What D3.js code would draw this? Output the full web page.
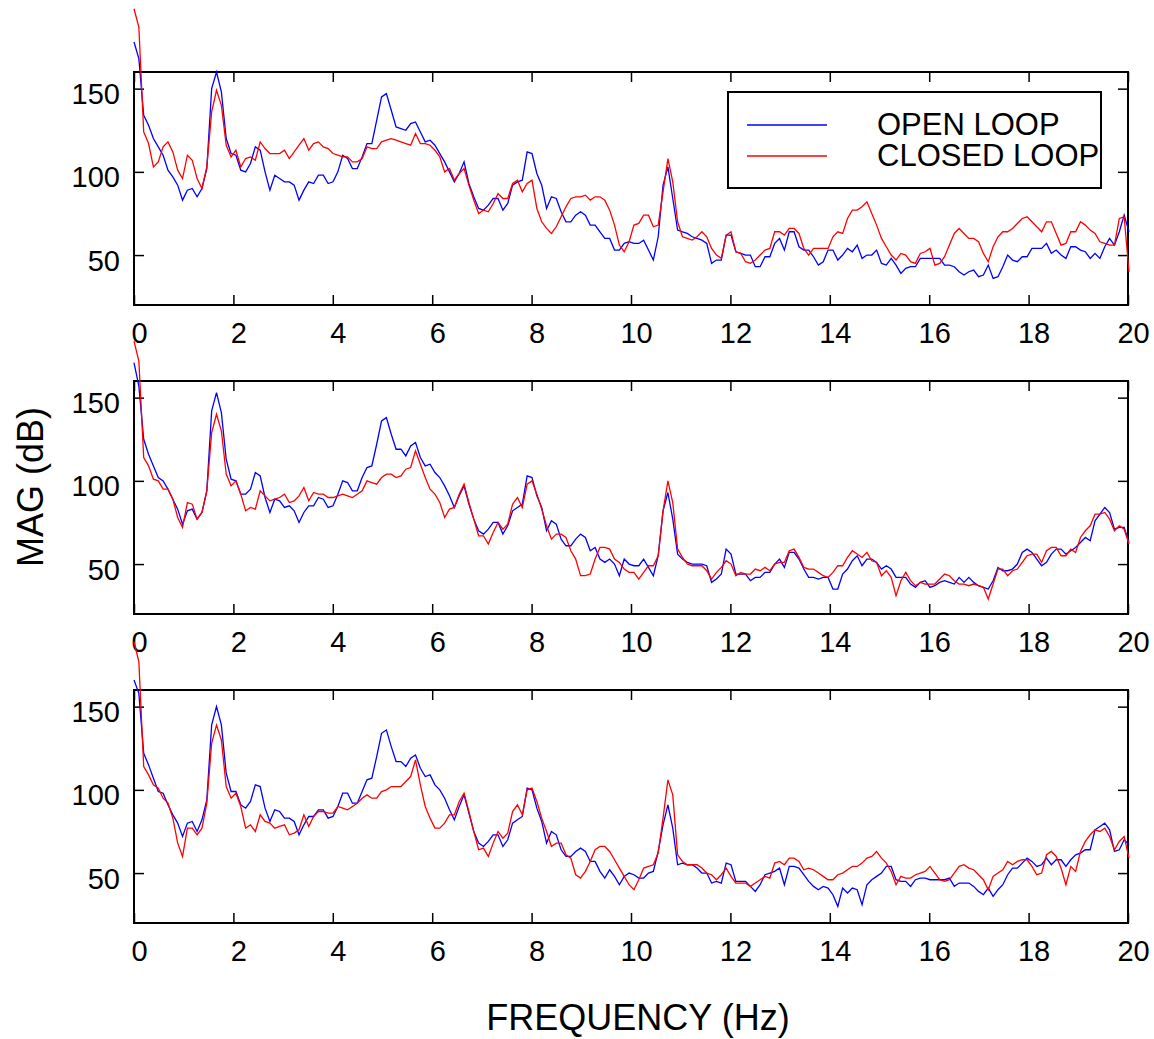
<!DOCTYPE html>
<html>
<head>
<meta charset="utf-8">
<script src="https://cdn.jsdelivr.net/npm/d3@7"></script>
<style>
  body { margin: 0; background: #fff; }
  text { font-family: "Liberation Sans", Arial, sans-serif; fill: #000; }
</style>
</head>
<body>
<svg width="1154" height="1039"></svg>
<script>
// frequency bin width of the spectra (Hz)
const binHz = 0.09766;

const xTicks = [0, 2, 4, 6, 8, 10, 12, 14, 16, 18, 20];
const yTicks = [50, 100, 150];
const seriesNames = ["OPEN LOOP", "CLOSED LOOP"];

// panel 1
const open1 = [
  178,168,134,128,120,115,110,101,97,92,
  83,89,90,85,90,102,150,160,148,120,
  111,110,101,100,105,115,113,100,89,98,
  96,94,94,92,83,89,94,93,98,98,
  93,94,100,110,108,102,102,109,117,117,
  131,145,147,137,127,126,125,129,130,124,
  118,119,116,111,106,100,94,99,106,93,
  85,78,77,80,84,84,77,81,92,94,
  95,112,111,99,92,78,85,84,76,70,
  70,74,76,74,68,68,64,60,60,53,
  53,57,58,57,57,59,53,47,61,92,
  103,84,65,64,63,61,60,59,57,45,
  47,47,62,62,52,51,50,50,43,43,
  49,49,57,60,53,64,64,55,53,53,
  49,44,46,53,53,47,50,54,52,56,
  48,50,50,53,45,44,48,44,39,42,
  43,43,48,48,48,48,48,44,44,43,
  40,38,40,41,37,38,44,36,37,43,
  50,47,46,49,49,54,54,54,57,51,
  53,50,48,55,55,53,52,48,51,48,
  55,60,56,64,74,64
];
const closed1 = [
  198,187,124,117,103,106,115,118,112,101,
  96,110,107,96,90,103,136,149,140,116,
  109,113,103,108,109,107,118,114,111,111,
  111,113,108,112,116,120,113,117,118,115,
  114,111,110,109,109,106,106,108,115,114,
  114,118,119,120,119,118,117,116,123,117,
  117,116,113,109,100,102,95,99,102,92,
  83,75,77,76,81,87,84,84,93,95,
  88,93,95,78,70,66,63,67,73,79,
  84,85,85,86,83,85,85,83,77,68,
  56,52,58,68,69,74,74,67,68,88,
  108,94,70,61,60,59,61,64,61,54,
  50,48,62,64,52,51,46,45,47,50,
  53,54,64,64,62,66,66,63,54,50,
  54,54,54,54,61,64,63,72,77,77,
  79,82,75,68,60,55,50,47,51,50,
  46,45,51,52,54,44,45,49,56,63,
  66,63,60,60,58,51,46,55,61,64,
  64,66,69,72,73,70,67,64,70,70,
  63,56,57,64,64,70,68,65,63,58,
  57,56,56,72,73,40
];

// panel 2
const open2 = [
  171,157,125,116,109,102,100,95,89,83,
  74,82,83,77,81,94,142,153,141,113,
  101,100,92,92,95,105,103,90,81,89,
  88,84,85,82,75,81,85,85,90,89,
  84,85,92,100,99,94,94,102,108,109,
  122,136,138,128,119,119,115,121,123,114,
  109,110,105,102,97,91,84,91,97,86,
  77,70,68,71,75,75,68,73,82,84,
  86,103,102,91,84,70,76,74,65,61,
  61,65,68,66,58,60,53,51,53,50,
  43,53,50,49,49,53,48,43,55,82,
  93,77,56,53,51,50,50,50,49,39,
  41,44,59,56,44,44,44,40,42,42,
  45,45,50,53,48,57,57,53,47,42,
  42,41,42,42,35,35,44,47,52,55,
  49,53,53,51,47,49,47,42,42,42,
  38,36,39,40,36,37,39,40,39,38,
  42,39,42,39,37,36,35,40,48,46,
  46,47,50,57,59,57,53,49,51,56,
  59,59,56,58,60,63,66,64,76,80,
  84,81,71,72,72,63
];
const closed2 = [
  184,172,114,109,101,100,95,95,89,78,
  72,87,86,77,81,94,129,140,130,104,
  97,100,92,82,84,83,94,91,88,89,
  90,92,87,88,91,96,88,93,92,92,
  90,90,91,92,91,90,92,94,100,99,
  98,102,104,104,102,103,107,108,118,110,
  102,95,92,87,78,83,84,92,98,87,
  77,67,67,62,69,75,71,74,86,90,
  84,98,100,92,83,73,65,68,68,66,
  58,53,43,43,44,53,60,60,59,53,
  51,47,45,45,41,45,49,49,55,82,
  100,87,59,54,50,49,49,49,46,41,
  45,48,52,50,43,45,44,44,47,46,
  48,46,50,51,51,58,59,54,48,47,
  47,45,43,42,45,49,49,54,58,56,
  54,57,52,51,43,46,42,31,40,45,
  40,37,39,38,38,38,41,44,43,40,
  38,38,37,38,37,36,29,38,47,47,
  43,46,47,51,55,56,56,51,58,60,
  60,55,55,59,57,66,70,73,80,80,
  81,77,70,73,71,62
];

// panel 3
const open3 = [
  166,158,122,115,107,99,98,91,85,80,
  72,80,81,75,82,94,139,150,139,110,
  99,99,91,89,93,103,102,89,81,88,
  87,83,83,81,73,79,84,84,88,88,
  83,84,90,98,98,92,92,99,106,107,
  120,134,136,126,117,117,114,119,121,113,
  108,109,103,100,95,88,82,90,97,86,
  75,68,66,69,73,73,66,70,80,82,
  84,101,100,89,81,68,75,73,64,60,
  60,63,65,63,57,57,51,47,52,48,
  43,48,50,49,47,47,50,51,63,79,
  91,77,55,56,55,55,53,50,50,44,
  45,44,56,55,45,45,45,42,39,43,
  49,50,51,53,43,54,54,53,49,45,
  42,40,42,41,37,30,41,38,41,40,
  31,43,46,48,50,54,54,46,45,45,
  42,46,47,47,46,46,46,46,47,42,
  44,44,44,42,39,37,41,36,40,43,
  49,53,53,56,59,57,54,55,59,55,
  58,58,54,58,61,62,64,64,76,78,
  80,76,63,64,70,67
];
const closed3 = [
  189,177,114,109,103,101,95,92,83,68,
  60,77,77,73,77,92,128,139,130,102,
  95,98,90,77,79,75,85,81,80,77,
  78,79,73,74,76,85,78,84,87,87,
  86,86,90,89,88,90,92,95,97,95,
  95,99,100,102,102,102,105,108,118,103,
  90,83,77,77,80,85,85,93,98,87,
  75,64,65,60,68,75,71,74,87,91,
  85,100,101,93,83,75,66,68,68,61,
  59,49,47,51,57,64,66,66,63,58,
  53,48,43,40,46,53,54,55,62,83,
  106,97,61,57,55,55,55,53,50,49,
  46,49,53,48,44,44,44,42,44,46,
  48,47,56,57,55,59,59,57,52,53,
  52,50,48,46,46,49,50,52,54,54,
  56,59,60,63,59,56,51,43,48,47,
  47,49,50,51,54,50,46,45,46,50,
  54,55,53,52,49,46,40,48,50,52,
  57,55,57,58,58,54,49,50,61,63,
  60,53,43,54,51,63,69,73,76,75,
  77,72,64,69,72,59
];

const panels = [
  { open: open1, closed: closed1, top: 72, legend: true },
  { open: open2, closed: closed2, top: 381 },
  { open: open3, closed: closed3, top: 690 }
];

const colors = { open: "#0000ff", closed: "#ff0000" };
const panelH = 233;

const svg = d3.select("svg");

const x = d3.scaleLinear().domain([0, 20]).range([134, 1128]);

panels.forEach(p => {
  const y = d3.scaleLinear().domain([20, 160]).range([p.top + panelH, p.top]);
  const g = svg.append("g");

  // frame
  g.append("rect")
    .attr("x", x(0)).attr("y", p.top)
    .attr("width", x(20) - x(0)).attr("height", panelH)
    .attr("fill", "none").attr("stroke", "#000").attr("stroke-width", 2);

  // inward ticks on all four sides
  const bottom = g.append("g")
    .attr("transform", `translate(0,${p.top + panelH})`)
    .call(d3.axisBottom(x).tickValues(xTicks).tickSize(-10).tickPadding(17));
  bottom.selectAll("text").attr("x", 5).style("font-size", "29px");

  g.append("g")
    .attr("transform", `translate(0,${p.top})`)
    .call(d3.axisTop(x).tickValues(xTicks).tickSize(-10).tickFormat(""));

  const left = g.append("g")
    .attr("transform", `translate(${x(0)},0)`)
    .call(d3.axisLeft(y).tickValues(yTicks).tickSize(-10).tickPadding(14));
  left.selectAll("text").attr("dy", "0.52em").style("font-size", "29px");

  g.append("g")
    .attr("transform", `translate(${x(20)},0)`)
    .call(d3.axisRight(y).tickValues(yTicks).tickSize(-10).tickFormat(""));

  g.selectAll(".domain").remove();
  g.selectAll(".tick line").attr("stroke", "#000").attr("stroke-width", 1.5);
  g.selectAll(".tick text").attr("fill", "#000").style("font-family", "'Liberation Sans', Arial, sans-serif");

  const line = d3.line()
    .x((d, i) => x(i * binHz))
    .y(d => y(d));

  g.append("path").datum(p.open)
    .attr("d", line).attr("fill", "none")
    .attr("stroke", colors.open).attr("stroke-width", 1.3);

  g.append("path").datum(p.closed)
    .attr("d", line).attr("fill", "none")
    .attr("stroke", colors.closed).attr("stroke-width", 1.3);

  if (p.legend) {
    const lg = g.append("g");
    lg.append("rect")
      .attr("x", 728).attr("y", 92).attr("width", 373).attr("height", 96)
      .attr("fill", "#fff").attr("stroke", "#000").attr("stroke-width", 2);
    [colors.open, colors.closed].forEach((c, i) => {
      const ly = 125 + i * 31;
      lg.append("line")
        .attr("x1", 747).attr("x2", 827).attr("y1", ly).attr("y2", ly)
        .attr("stroke", c).attr("stroke-width", 1.3);
      lg.append("text")
        .attr("x", 877).attr("y", ly + 10)
        .style("font-size", "31px")
        .text(seriesNames[i]);
    });
  }
});

svg.append("text")
  .attr("transform", "translate(43,487) rotate(-90)")
  .attr("text-anchor", "middle")
  .style("font-size", "36px")
  .text("MAG (dB)");

svg.append("text")
  .attr("x", 638).attr("y", 1030)
  .attr("text-anchor", "middle")
  .style("font-size", "36px")
  .text("FREQUENCY (Hz)");
</script>
</body>
</html>
